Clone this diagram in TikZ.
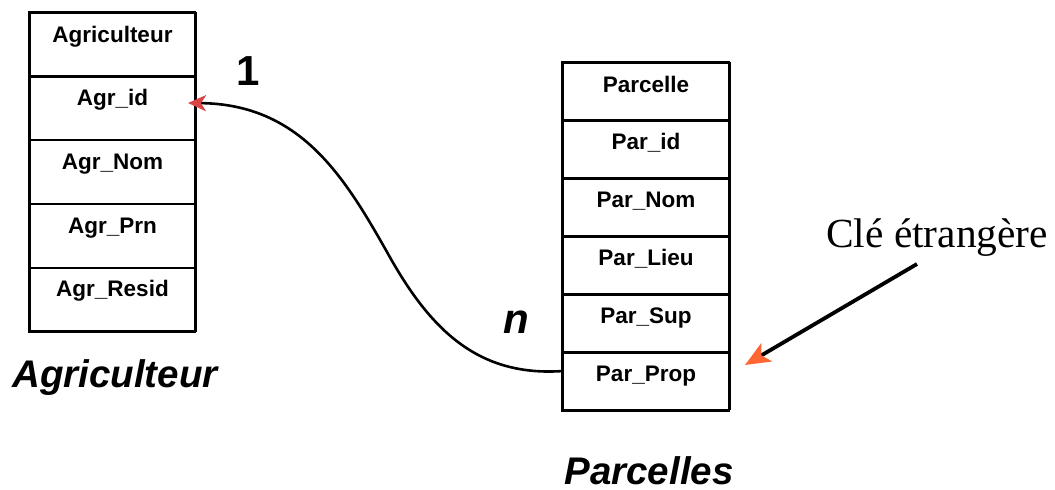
\documentclass[tikz,border=0pt]{standalone}
\usepackage{fontspec}
\setmainfont{Liberation Serif}
\newfontfamily\arialf{Liberation Sans}
\usetikzlibrary{arrows.meta,calc}
\definecolor{arrowred}{HTML}{D94444}
\definecolor{arroworange}{HTML}{FF6633}
\begin{document}
\begin{tikzpicture}[x=1pt,y=-1pt,
  lcell/.style={draw, line width=1.3pt, inner sep=0pt, minimum width=165pt, minimum height=62.6pt},
  rcell/.style={draw, line width=1.3pt, inner sep=0pt, minimum width=166pt, minimum height=56.7pt},
  celltext/.style={font=\arialf\bfseries\fontsize{22.5}{27}\selectfont, inner sep=0pt, anchor=base},
  biglabel/.style={font=\arialf\bfseries\itshape\fontsize{38.5}{46}\selectfont, inner sep=0pt, anchor=base},
  card/.style={font=\arialf\bfseries\fontsize{42}{50}\selectfont, inner sep=0pt, anchor=base},
  border/.style={line width=3pt}
]
\useasboundingbox (0,0) rectangle (1055,490);

% Agriculteur table
\node[lcell] (a1) at (112.5,44.3) {};
\node[lcell, anchor=north] (a2) at (a1.south) {};
\node[lcell, anchor=north] (a3) at (a2.south) {};
\node[lcell, anchor=north] (a4) at (a3.south) {};
\node[lcell, anchor=north] (a5) at (a4.south) {};
\draw[border] (a1.north east) -- (a1.north west) -- (a5.south west) -- (a5.south east);
\draw[line width=2pt] (a1.north east) -- (a5.south east);
\node[celltext] (a1t) at ([yshift=-30pt]a1.north) {Agriculteur};
\node[celltext] (a2t) at ([yshift=-29pt]a2.north) {Agr\_id};
\node[celltext] (a3t) at ([yshift=-29pt]a3.north) {Agr\_Nom};
\node[celltext] (a4t) at ([yshift=-29pt]a4.north) {Agr\_Prn};
\node[celltext] (a5t) at ([yshift=-29pt]a5.north) {Agr\_Resid};

% Parcelle table
\node[rcell] (p1) at (646,91.35) {};
\node[rcell, anchor=north] (p2) at (p1.south) {};
\node[rcell, anchor=north] (p3) at (p2.south) {};
\node[rcell, anchor=north] (p4) at (p3.south) {};
\node[rcell, anchor=north] (p5) at (p4.south) {};
\node[rcell, anchor=north] (p6) at (p5.south) {};
\draw[border] (p1.north east) -- (p1.north west) -- (p6.south west) -- (p6.south east);
\draw[line width=2pt] (p1.north east) -- (p6.south east);
\node[celltext] (p1t) at ([yshift=-30pt]p1.north) {Parcelle};
\node[celltext] (p2t) at ([yshift=-29pt]p2.north) {Par\_id};
\node[celltext] (p3t) at ([yshift=-29pt]p3.north) {Par\_Nom};
\node[celltext] (p4t) at ([yshift=-29pt]p4.north) {Par\_Lieu};
\node[celltext] (p5t) at ([yshift=-29pt]p5.north) {Par\_Sup};
\node[celltext] (p6t) at ([yshift=-29pt]p6.north) {Par\_Prop};

% labels
\node[biglabel] (agrlab) at (115,387) {Agriculteur};
\node[biglabel] (parlab) at (649,484) {Parcelles};
\node[card] (one) at (248,85) {1};
\node[card, font=\arialf\bfseries\itshape\fontsize{42}{50}\selectfont] (enn) at (516,333) {n};
\node[font=\fontsize{41.4}{48}\selectfont, inner sep=0pt, anchor=base west] (cle) at (826,247) {Clé étrangère};

% relation curve
\coordinate (start) at (563,371);
\coordinate (tipA) at (188,103);
\coordinate (mid) at (387,252);
\draw[line width=2.6pt, -{Stealth[length=18pt,width=16pt,inset=5pt,color=arrowred]}]
  (start) .. controls (478,377) and (430,330) .. (mid)
  .. controls (344,176) and (300,104) .. (tipA);

% foreign key arrow
\coordinate (cleStart) at (917,264);
\coordinate (cleTip) at (745,365);
\draw[line width=3.8pt, -{Stealth[length=25pt,width=21pt,inset=6pt,color=arroworange]}] (cleStart) -- (cleTip);
\end{tikzpicture}
\end{document}
